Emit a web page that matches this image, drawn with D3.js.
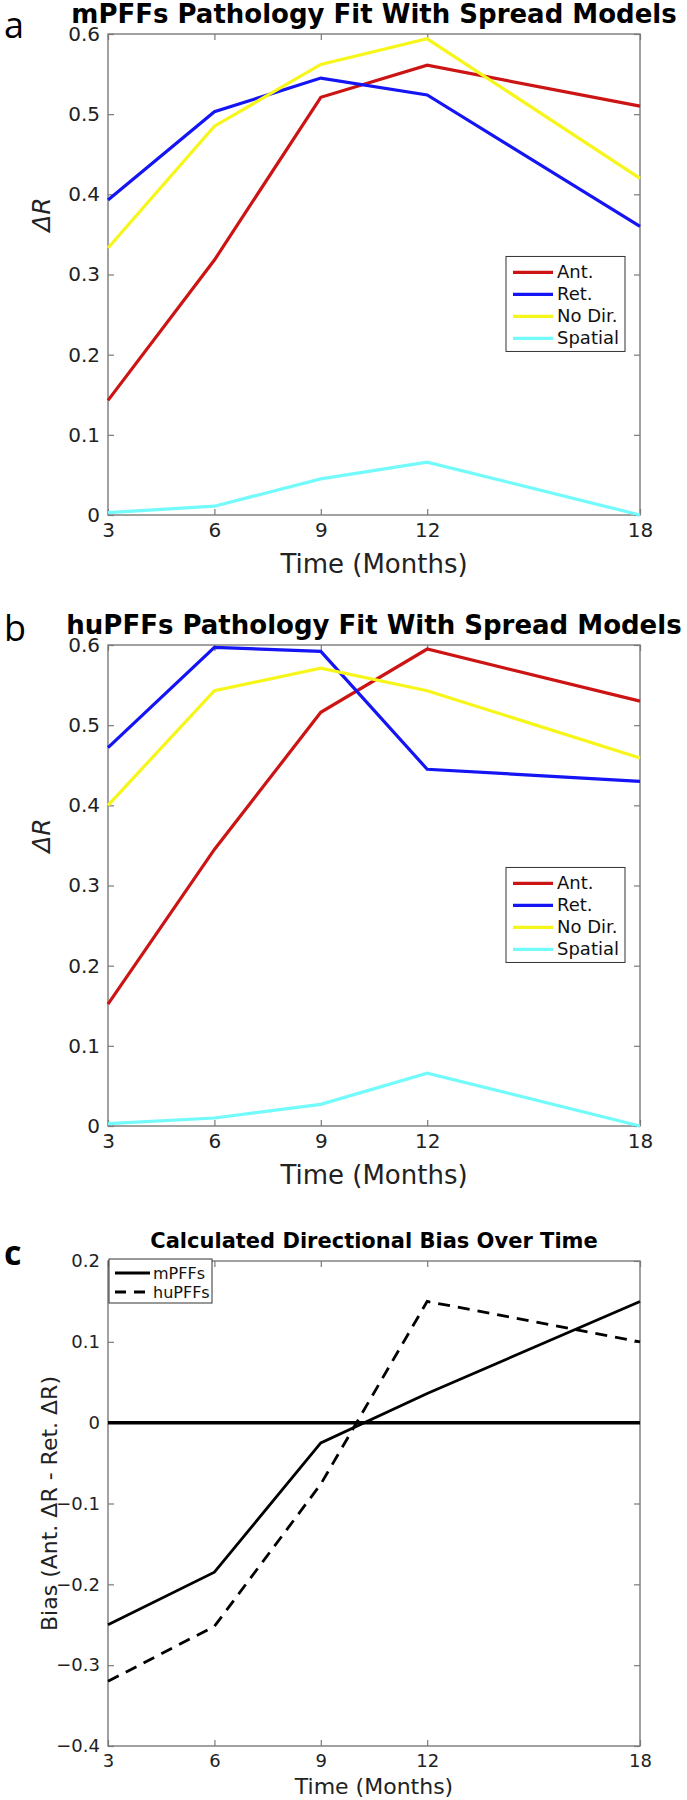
<!DOCTYPE html>
<html>
<head>
<meta charset="utf-8">
<script src="https://cdn.jsdelivr.net/npm/d3@7"></script>
<style>
  body { margin: 0; background: #fff; }
  svg { display: block; font-family: "DejaVu Sans", sans-serif; }
  .frame { fill: none; stroke: #7a7a7a; stroke-width: 1.4; }
  .axis path { display: none; }
  .axis line { stroke: #7a7a7a; stroke-width: 1.2; }
  .axis text { fill: #222; font-family: "DejaVu Sans", sans-serif; }
</style>
</head>
<body>
<div id="chart"></div>
<script>
// time points (months)
var months = [3, 6, 9, 12, 18];
var yTicksAB = [0, 0.1, 0.2, 0.3, 0.4, 0.5, 0.6];
var yTicksC = [-0.4, -0.3, -0.2, -0.1, 0, 0.1, 0.2];

var modelNames = ['Ant.', 'Ret.', 'No Dir.', 'Spatial'];

// panel a: mPFFs
var mAnt     = [0.143, 0.318, 0.521, 0.561, 0.510];
var mRet     = [0.393, 0.503, 0.545, 0.524, 0.360];
var mNoDir   = [0.333, 0.485, 0.562, 0.594, 0.420];
var mSpatial = [0.003, 0.011, 0.045, 0.066, 0.000];

// panel b: huPFFs
var huAnt     = [0.152, 0.345, 0.516, 0.595, 0.530];
var huRet     = [0.472, 0.597, 0.592, 0.445, 0.430];
var huNoDir   = [0.400, 0.543, 0.571, 0.543, 0.459];
var huSpatial = [0.003, 0.010, 0.027, 0.066, 0.000];

// panel c: bias (Ant. dR - Ret. dR)
var biasNames = ['mPFFs', 'huPFFs'];
var biasM  = [-0.250, -0.185, -0.025, 0.036, 0.150];
var biasHu = [-0.320, -0.252, -0.076, 0.150, 0.100];

var modelColors = ['#cc1414', '#1414f5', '#f6f61a', '#73fafa'];

var svg = d3.select('#chart').append('svg')
    .attr('width', 687).attr('height', 1800);

var left = 108, right = 640;

function drawFrame(g, x, y, yTicks, o){
    var w = right - left, h = o.bottom - o.top;

    g.append('g').attr('class', 'axis')
        .attr('transform', 'translate(0,' + o.bottom + ')')
        .call(d3.axisBottom(x).tickValues(months).tickSizeInner(-6).tickSizeOuter(0).tickPadding(8))
        .selectAll('text').style('font-size', o.tickFont + 'px');
    g.append('g').attr('class', 'axis')
        .attr('transform', 'translate(0,' + o.top + ')')
        .call(d3.axisTop(x).tickValues(months).tickSizeInner(-6).tickSizeOuter(0).tickFormat(''));
    g.append('g').attr('class', 'axis')
        .attr('transform', 'translate(' + left + ',0)')
        .call(d3.axisLeft(y).tickValues(yTicks).tickSizeInner(-6).tickSizeOuter(0).tickPadding(8).tickFormat(d3.format('')))
        .selectAll('text').style('font-size', o.tickFont + 'px');
    g.append('g').attr('class', 'axis')
        .attr('transform', 'translate(' + right + ',0)')
        .call(d3.axisRight(y).tickValues(yTicks).tickSizeInner(-6).tickSizeOuter(0).tickFormat(''));

    g.append('rect').attr('class', 'frame')
        .attr('x', left).attr('y', o.top).attr('width', w).attr('height', h);

    g.append('text')
        .attr('x', (left + right) / 2).attr('y', o.titleY)
        .attr('text-anchor', 'middle')
        .style('font-weight', 'bold').style('font-size', o.titleFont + 'px')
        .text(o.title);

    g.append('text')
        .attr('x', (left + right) / 2).attr('y', o.xlabelY)
        .attr('text-anchor', 'middle').style('font-size', o.xlabelFont + 'px').attr('fill', '#222')
        .text('Time (Months)');

    g.append('text')
        .attr('x', 4).attr('y', o.letterY)
        .style('font-family', '"Open Sans", sans-serif')
        .style('font-size', o.letterFont + 'px').style('font-weight', o.letterWeight || 'normal')
        .text(o.letter);
}

function drawModelPanel(o, series){
    var g = svg.append('g');
    var x = d3.scaleLinear().domain([3, 18]).range([left, right]);
    var y = d3.scaleLinear().domain([0, 0.6]).range([o.bottom, o.top]);

    drawFrame(g, x, y, yTicksAB, o);

    g.append('text')
        .attr('transform', 'translate(' + 50 + ',' + (y(0.3) + o.ylabelShift) + ') rotate(-90)')
        .attr('text-anchor', 'middle')
        .style('font-size', '25px').style('font-style', 'italic').attr('fill', '#222')
        .text('ΔR');

    var line = d3.line().x((d, i) => x(months[i])).y(d => y(d));
    g.selectAll('path.series').data(series).enter()
        .append('path').attr('class', 'series')
        .attr('d', line)
        .attr('fill', 'none')
        .attr('stroke', (d, i) => modelColors[i])
        .attr('stroke-width', 3.2);

    // legend sits just above the 0.2 level
    var lg = g.append('g').attr('transform', 'translate(506,' + (y(0.204) - 95) + ')');
    lg.append('rect').attr('width', 119).attr('height', 95)
        .attr('fill', '#fff').attr('stroke', '#333').attr('stroke-width', 1);
    modelNames.forEach(function(name, i){
        var ry = 16 + i * 22;
        lg.append('line').attr('x1', 7).attr('x2', 47).attr('y1', ry).attr('y2', ry)
            .attr('stroke', modelColors[i]).attr('stroke-width', 3.2);
        lg.append('text').attr('x', 51).attr('y', ry + 6)
            .style('font-size', '18px').attr('fill', '#111').text(name);
    });
}

drawModelPanel({
    top: 34, bottom: 515, title: 'mPFFs Pathology Fit With Spread Models',
    titleY: 23, titleFont: 26, xlabelY: 573, xlabelFont: 26, tickFont: 20,
    letter: 'a', letterY: 38, letterFont: 36, ylabelShift: -60
}, [mAnt, mRet, mNoDir, mSpatial]);

drawModelPanel({
    top: 645, bottom: 1126, title: 'huPFFs Pathology Fit With Spread Models',
    titleY: 634, titleFont: 26, xlabelY: 1184, xlabelFont: 26, tickFont: 20,
    letter: 'b', letterY: 641, letterFont: 36, ylabelShift: -50
}, [huAnt, huRet, huNoDir, huSpatial]);

// panel c
(function(){
    var o = {
        top: 1261, bottom: 1746, title: 'Calculated Directional Bias Over Time',
        titleY: 1248, titleFont: 21, xlabelY: 1794, xlabelFont: 22, tickFont: 18,
        letter: 'c', letterY: 1265, letterFont: 34, letterWeight: 'bold'
    };
    var g = svg.append('g');
    var x = d3.scaleLinear().domain([3, 18]).range([left, right]);
    var y = d3.scaleLinear().domain([-0.4, 0.2]).range([o.bottom, o.top]);

    drawFrame(g, x, y, yTicksC, o);

    g.append('text')
        .attr('transform', 'translate(' + 57 + ',' + y(-0.1) + ') rotate(-90)')
        .attr('text-anchor', 'middle')
        .style('font-size', '22px').attr('fill', '#222')
        .text('Bias (Ant. ΔR - Ret. ΔR)');

    g.append('line')
        .attr('x1', x(3)).attr('x2', x(18)).attr('y1', y(0)).attr('y2', y(0))
        .attr('stroke', '#000').attr('stroke-width', 3.5);

    var line = d3.line().x((d, i) => x(months[i])).y(d => y(d));
    g.append('path').attr('d', line(biasM))
        .attr('fill', 'none').attr('stroke', '#000').attr('stroke-width', 2.8);
    g.append('path').attr('d', line(biasHu))
        .attr('fill', 'none').attr('stroke', '#000').attr('stroke-width', 2.8)
        .attr('stroke-dasharray', '12,8');

    var lg = g.append('g').attr('transform', 'translate(109,1259)');
    lg.append('rect').attr('width', 103).attr('height', 44)
        .attr('fill', '#fff').attr('stroke', '#333').attr('stroke-width', 1);
    biasNames.forEach(function(name, i){
        var ry = 14 + i * 19;
        lg.append('line').attr('x1', 6).attr('x2', 41).attr('y1', ry).attr('y2', ry)
            .attr('stroke', '#000').attr('stroke-width', 2.8)
            .attr('stroke-dasharray', i === 1 ? '11,8' : null);
        lg.append('text').attr('x', 44).attr('y', ry + 6)
            .style('font-size', '16px').attr('fill', '#111').text(name);
    });
})();
</script>
</body>
</html>
